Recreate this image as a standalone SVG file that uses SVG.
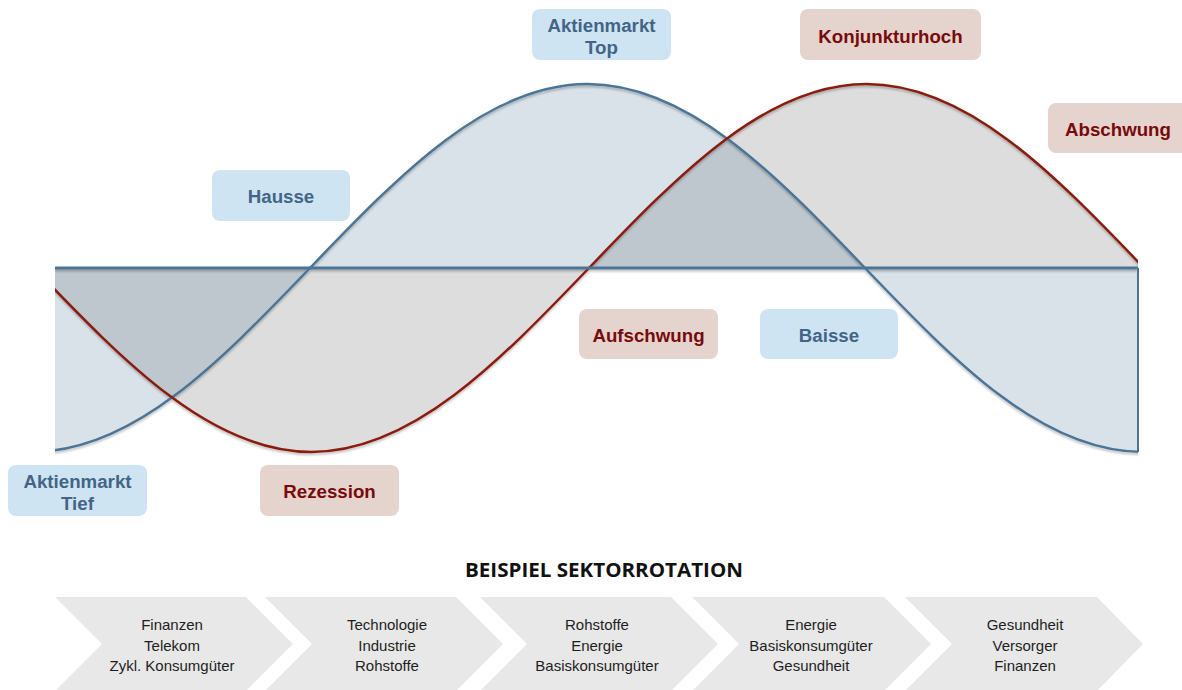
<svg xmlns="http://www.w3.org/2000/svg" width="1182" height="690" viewBox="0 0 1182 690">
<style>
.lblB{fill:#cfe4f3}
.lblR{fill:#e5d3ce}
.tB{font-family:"Liberation Sans",Arial,sans-serif;font-weight:bold;font-size:18.7px;fill:#426586;text-anchor:middle}
.tR{font-family:"Liberation Sans",Arial,sans-serif;font-weight:bold;font-size:18.7px;fill:#780a0a;text-anchor:middle}
.chev{fill:#e8e8e8}
.ct{font-family:"Liberation Sans",Arial,sans-serif;font-size:15px;fill:#1e1e1e;text-anchor:middle}
.title{font-family:"Open Sans","Liberation Sans",sans-serif;font-weight:700;font-size:19px;fill:#111;text-anchor:middle}
</style>
<defs>
<clipPath id="clip"><rect x="55" y="0" width="1083" height="690"/></clipPath>
<filter id="sh" x="-5%" y="-5%" width="110%" height="120%">
<feDropShadow dx="0" dy="2" stdDeviation="1.2" flood-color="#000" flood-opacity="0.25"/>
</filter>
</defs>
<g id="chart" clip-path="url(#clip)">
<path id="redFill" d="M34 268 C124.5 362.3 211.1 452 311.5 452 C411.9 452 498.5 362.3 589 268 C679.5 173.7 766.1 84 866.5 84 C966.9 84 1053.5 173.7 1144 268 Z" fill="#000" fill-opacity="0.135"/>
<path id="blueFill" d="M32.5 268 L32.5 452 C132.9 452 219.5 362.3 310 268 C400.5 173.7 487.1 84 587.5 84 C687.9 84 774.5 173.7 865 268 C955.5 362.3 1042.1 452 1142.5 452 L1142.5 268 Z" fill="#4b7496" fill-opacity="0.21"/>
<g filter="url(#sh)" fill="none">
<path id="blueCurve" d="M32.5 452 C132.9 452 219.5 362.3 310 268 C400.5 173.7 487.1 84 587.5 84 C687.9 84 774.5 173.7 865 268 C955.5 362.3 1042.1 452 1142.5 452" stroke="#4b7496" stroke-width="2.5"/>
<path id="redCurve" d="M34 268 C124.5 362.3 211.1 452 311.5 452 C411.9 452 498.5 362.3 589 268 C679.5 173.7 766.1 84 866.5 84 C966.9 84 1053.5 173.7 1144 268" stroke="#8a1f0f" stroke-width="2.5"/>
<line x1="55" y1="268" x2="1138" y2="268" stroke="#4b7496" stroke-width="3"/>
</g>
</g>
<line x1="1138" y1="268" x2="1138" y2="452" stroke="#4b7496" stroke-width="2"/>

<g id="lbl-top"><rect class="lblB" x="532" y="9" width="139" height="51" rx="8"/><text class="tB" x="601.5" y="31.5">Aktienmarkt</text><text class="tB" x="601.5" y="54">Top</text></g>
<g id="lbl-konj"><rect class="lblR" x="800" y="9" width="181" height="51" rx="8"/><text class="tR" x="890.5" y="42.5">Konjunkturhoch</text></g>
<g id="lbl-absch"><rect class="lblR" x="1048" y="103" width="142" height="50" rx="8"/><text class="tR" x="1118" y="136">Abschwung</text></g>
<g id="lbl-hausse"><rect class="lblB" x="212" y="170" width="138" height="51" rx="8"/><text class="tB" x="281" y="203">Hausse</text></g>
<g id="lbl-aufsch"><rect class="lblR" x="579" y="309" width="139" height="50" rx="8"/><text class="tR" x="648.5" y="342">Aufschwung</text></g>
<g id="lbl-baisse"><rect class="lblB" x="760" y="309" width="138" height="50" rx="8"/><text class="tB" x="829" y="342">Baisse</text></g>
<g id="lbl-tief"><rect class="lblB" x="8" y="465" width="139" height="51" rx="8"/><text class="tB" x="77.5" y="487.5">Aktienmarkt</text><text class="tB" x="77.5" y="509.5">Tief</text></g>
<g id="lbl-rez"><rect class="lblR" x="260" y="465" width="139" height="51" rx="8"/><text class="tR" x="329.5" y="498">Rezession</text></g>

<text class="title" x="604" y="577" textLength="278" lengthAdjust="spacingAndGlyphs">BEISPIEL SEKTORROTATION</text>

<g id="chev1"><polygon class="chev" points="55,597 246,597 293,644 246,691 55,691 102,644"/>
<text class="ct" x="172" y="630">Finanzen</text><text class="ct" x="172" y="650.5">Telekom</text><text class="ct" x="172" y="671">Zykl. Konsumgüter</text></g>
<g id="chev2"><polygon class="chev" points="265,597 456,597 503,644 456,691 265,691 312,644"/>
<text class="ct" x="387" y="630">Technologie</text><text class="ct" x="387" y="650.5">Industrie</text><text class="ct" x="387" y="671">Rohstoffe</text></g>
<g id="chev3"><polygon class="chev" points="480,597 671,597 718,644 671,691 480,691 527,644"/>
<text class="ct" x="597" y="630">Rohstoffe</text><text class="ct" x="597" y="650.5">Energie</text><text class="ct" x="597" y="671">Basiskonsumgüter</text></g>
<g id="chev4"><polygon class="chev" points="692,597 884,597 931,644 884,691 692,691 739,644"/>
<text class="ct" x="811" y="630">Energie</text><text class="ct" x="811" y="650.5">Basiskonsumgüter</text><text class="ct" x="811" y="671">Gesundheit</text></g>
<g id="chev5"><polygon class="chev" points="905,597 1097,597 1143,644 1097,691 905,691 952,644"/>
<text class="ct" x="1025" y="630">Gesundheit</text><text class="ct" x="1025" y="650.5">Versorger</text><text class="ct" x="1025" y="671">Finanzen</text></g>
</svg>
